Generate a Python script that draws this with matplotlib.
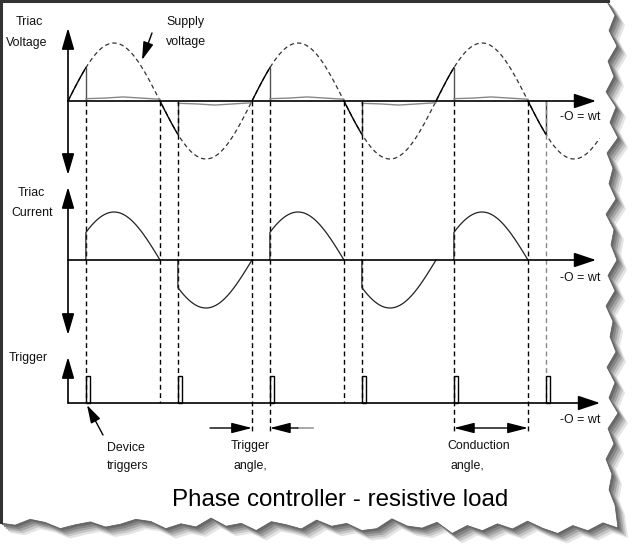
import numpy as np
import matplotlib.pyplot as plt
from matplotlib.patches import Polygon

plt.rcParams['font.family'] = ['Liberation Sans', 'DejaVu Sans']

# supply half cycles (degrees) and the firing points
zero_deg = [0, 180, 360, 540, 720, 900]
fire_deg = [35, 215, 395, 575, 755, 935]
supply_end = 1040
# small on-state voltage left across the triac while it conducts (x peak)
on_frac = [0.0, 0.25, 0.5, 0.75, 1.0]
on_volt = [0.04, 0.05, 0.07, 0.05, 0.03]
# half cycles that show a current pulse
current_halves = [0, 1, 2, 3, 4]
# dashed guide lines: short ones stop at the trigger axis, long ones go lower
guide_short = [zero_deg[1], zero_deg[3], fire_deg[0], fire_deg[1], fire_deg[3]]
guide_long = [zero_deg[2], zero_deg[5], fire_deg[2], fire_deg[4]]
guide_grey = [fire_deg[5]]

# page layout in pixels
W, H = 639, 545
X0, HALF = 68, 92                    # px of 0 deg, px per 180 deg
V0, VU = 101, 58                     # voltage zero line / px per unit
I0, IU = 260, 48                     # current
T0, TU = 403, 27                     # trigger


def deg(px):
    return (px - X0) * 180 / HALF


def units(px, zero, unit):
    return (zero - px) / unit


XLIM = (deg(0), deg(W))

fig = plt.figure(figsize=(W / 100, H / 100), dpi=100)
fig.patch.set_facecolor('white')

# background page with torn edge + shadow
canvas = fig.add_axes([0, 0, 1, 1], zorder=0)
canvas.set_xlim(0, W)
canvas.set_ylim(H, 0)
canvas.axis('off')

right_jag = [0, 9, 3, 11, 2, 8, 0, 10, 4, 12, 1, 7, 3, 10, 0, 8, 5, 11,
             2, 9, 0, 7, 4, 10, 1, 9, 3, 12, 2, 8, 0, 6, 3, 9]
bottom_jag = [0, -5, 3, -2, 6, 1, -6, 2, -3, 4, -1, 7, -4, 2, 0, -7, 3, 5,
              -2, 1, -5, 4, 0, -3, 6, -1, 2, -6, 3, 0, 5, -2, -4, 1, 4, -1,
              2, 6, 0, -3, 3, 1]
ry = np.linspace(0, 505, len(right_jag))
rx = 606 + np.array(right_jag)
bx = np.linspace(618, 0, len(bottom_jag))
by = 522 + np.array(bottom_jag) + np.linspace(6, 0, len(bottom_jag))
page = np.vstack([[[0, 0]], np.c_[rx, ry], np.c_[bx, by]])

for off, col in [(10, '#e4e4e4'), (8, '#c6c6c6'), (6, '#a4a4a4'), (4, '#858585'), (2, '#6a6a6a')]:
    canvas.add_patch(Polygon(page + off, closed=True, facecolor=col, edgecolor='none'))
canvas.add_patch(Polygon(page, closed=True, facecolor='white', edgecolor='#555555', lw=0.5))
canvas.plot([0, 608], [1, 1], color='#333333', lw=2.2)
canvas.plot([1, 1], [0, 522], color='#333333', lw=2.2)


def panel(zero, unit):
    ax = fig.add_axes([0, 0, 1, 1], zorder=2)
    ax.set_xlim(*XLIM)
    ax.set_ylim(units(H, zero, unit), units(0, zero, unit))
    ax.axis('off')
    return ax


ax_v = panel(V0, VU)
ax_i = panel(I0, IU)
ax_t = panel(T0, TU)

axis_head = '-|>,head_length=1.35,head_width=0.45'
both_head = '<|-|>,head_length=1.3,head_width=0.38'
ap = dict(color='black', lw=1.2, shrinkA=0, shrinkB=0, mutation_scale=10)

# axes with arrows
ax_v.annotate('', xy=(deg(596), 0), xytext=(0, 0), arrowprops=dict(arrowstyle=axis_head, **ap))
ax_v.annotate('', xy=(0, units(28, V0, VU)), xytext=(0, units(175, V0, VU)),
              arrowprops=dict(arrowstyle=both_head, **ap))
ax_i.annotate('', xy=(deg(596), 0), xytext=(0, 0), arrowprops=dict(arrowstyle=axis_head, **ap))
ax_i.annotate('', xy=(0, units(187, I0, IU)), xytext=(0, units(335, I0, IU)),
              arrowprops=dict(arrowstyle=both_head, **ap))
ax_t.annotate('', xy=(deg(600), 0), xytext=(0, 0), arrowprops=dict(arrowstyle=axis_head, **ap))
ax_t.annotate('', xy=(0, units(357, T0, TU)), xytext=(0, 0),
              arrowprops=dict(arrowstyle=both_head.replace('<|-|>', '-|>'), **ap))

# supply voltage (dashed)
a = np.linspace(0, supply_end, 500)
ax_v.plot(a, np.sin(np.radians(a)), color='#333333', lw=0.9, linestyle=(0, (3.5, 2.5)))

# triac voltage
for k, (z, f) in enumerate(zip(zero_deg, fire_deg)):
    s = 1 if k % 2 == 0 else -1
    a = np.linspace(z, f, 30)
    ax_v.plot(a, np.sin(np.radians(a)), color='black', lw=1)
    if k == len(zero_deg) - 1:
        ax_v.plot([f, f], [np.sin(np.radians(f)), 0], color='#333333', lw=1)
        continue
    end = z + 180
    xs = f + np.array(on_frac) * (end - f)
    ys = s * np.array(on_volt)
    ax_v.plot([f, f], [np.sin(np.radians(f)), ys[0]], color='#555555', lw=1)
    ax_v.plot(xs, ys, color='#888888', lw=1)

# triac current
for k in current_halves:
    z, f = zero_deg[k], fire_deg[k]
    a = np.linspace(f, z + 180, 40)
    ax_i.plot(np.r_[f, a], np.r_[0, np.sin(np.radians(a))], color='#222222', lw=0.9)

# trigger pulses
ax_t.bar(fire_deg, 1, width=deg(X0 + 4), align='edge', facecolor='none',
         edgecolor='black', lw=1)

# dashed guides
dash = (0, (3.5, 2.5))
ax_v.vlines(guide_short, 0, units(T0, V0, VU), color='black', lw=1, linestyles=[dash])
ax_v.vlines(guide_long, 0, units(433, V0, VU), color='black', lw=1, linestyles=[dash])
ax_v.vlines(guide_grey, 0, units(T0, V0, VU), color='#888888', lw=1, linestyles=[dash])

# angle markers under the trigger axis
y_ang = units(428, T0, TU)
small = dict(color='black', lw=1, shrinkA=0, shrinkB=0, mutation_scale=10)
ax_t.annotate('', xy=(zero_deg[2], y_ang), xytext=(zero_deg[2] - deg(X0 + 42), y_ang),
              arrowprops=dict(arrowstyle='-|>,head_length=1.25,head_width=0.32', **small))
ax_t.annotate('', xy=(fire_deg[2], y_ang), xytext=(fire_deg[2] + deg(X0 + 28), y_ang),
              arrowprops=dict(arrowstyle='-|>,head_length=1.25,head_width=0.32', **small))
ax_t.plot([fire_deg[2] + deg(X0 + 28), fire_deg[2] + deg(X0 + 43)], [y_ang, y_ang],
          color='#999999', lw=1.2)
ax_t.annotate('', xy=(fire_deg[4], y_ang), xytext=(zero_deg[5], y_ang),
              arrowprops=dict(arrowstyle='<|-|>,head_length=1.25,head_width=0.32', **small))

# pointer arrows for labels
canvas.annotate('', xy=(142, 60), xytext=(152, 33),
                arrowprops=dict(arrowstyle='-|>,head_length=1.1,head_width=0.32', **small))
canvas.annotate('', xy=(87, 405), xytext=(103, 435),
                arrowprops=dict(arrowstyle='-|>,head_length=1.1,head_width=0.32', **small))

# labels
fs = 8.9
labels = [
    (29, 22, 'Triac'), (27, 43, 'Voltage'),
    (185, 22, 'Supply'), (186, 42, 'voltage'),
    (31, 193, 'Triac'), (32, 213, 'Current'),
    (28, 358, 'Trigger'),
    (126, 448, 'Device'), (128, 466, 'triggers'),
    (250, 446, 'Trigger'), (250, 466, 'angle,'),
    (479, 446, 'Conduction'), (467, 466, 'angle,'),
]
for x, y, s in labels:
    canvas.text(x, y, s, ha='center', va='center', fontsize=fs, color='#111111')
for y in [117, 278, 420]:
    canvas.text(580, y, '-O = wt', ha='center', va='center', fontsize=fs, color='#111111')

canvas.text(340, 500, 'Phase controller - resistive load', ha='center', va='center',
            fontsize=17.4, color='black')

plt.savefig('out.png', dpi=100, facecolor='white')
